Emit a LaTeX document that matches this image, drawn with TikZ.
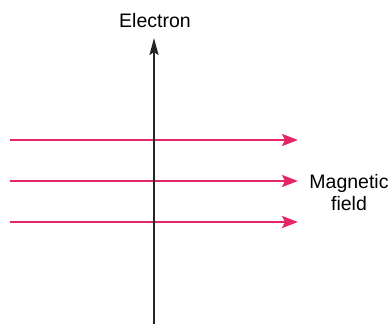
\documentclass[tikz,border=0pt]{standalone}
\usepackage{fontspec}
\setmainfont{Liberation Sans}
\usetikzlibrary{arrows.meta}
\definecolor{fieldpink}{RGB}{226,38,104}
\begin{document}
\begin{tikzpicture}[x=1pt, y=-1pt, font=\fontsize{19.5}{22}\selectfont,
  fieldline/.style={fieldpink, line width=2.2pt, -{Stealth[length=16pt, width=12pt, inset=3pt]}},
  electronline/.style={black!85, line width=2.2pt, -{Stealth[length=17pt, width=9pt, inset=3pt]}}]
\useasboundingbox (0,0) rectangle (389,324);
\node (el) at (155,21) {Electron};
\node[align=center] (mf) at (349,193) {Magnetic\\field};
\coordinate (bot) at (154,326);
\coordinate (top) at (154,38);
\foreach \y [count=\i] in {140,181,222}{
  \coordinate (l\i) at (10,\y);
  \coordinate (r\i) at (298,\y);
  \draw[fieldline] (l\i) -- (r\i);
}
\draw[electronline] (bot) -- (top);
\end{tikzpicture}
\end{document}
